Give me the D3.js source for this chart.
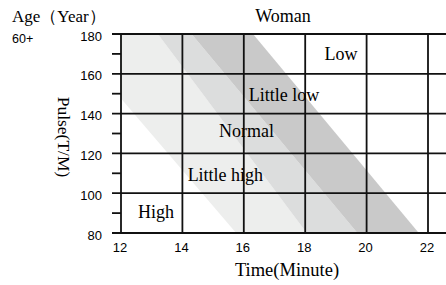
<!DOCTYPE html>
<html>
<head>
<meta charset="utf-8">
<script src="https://cdn.jsdelivr.net/npm/d3@7"></script>
<style>
  body { margin: 0; background: #fff; }
  .serif { font-family: "Liberation Serif", "Times New Roman", serif; }
  .sans { font-family: "Liberation Sans", Arial, sans-serif; }
</style>
</head>
<body>
<div id="chart"></div>
<script>
// axis ticks
const xTicks = [12, 14, 16, 18, 20, 22];
const yTicks = [80, 100, 120, 140, 160, 180];
const yMinor = [90, 110, 130, 150, 170];

// band edges: time where each edge crosses pulse 180 and pulse 80
const edgeTop = [10.2, 13.2, 14.3, 16.3];
const edgeBottom = [15.75, 18.05, 19.7, 21.7];
const bandColors = ["#edeeed", "#dcdddd", "#c9c9c9"];

// zone labels
const zones = ["Low", "Little low", "Normal", "Little high", "High"];
const zoneTime = [19.17, 17.31, 16.09, 15.4, 13.14];
const zonePulse = [170, 149.6, 131.4, 109.3, 90.7];

const W = 446, H = 285;
const m = {left: 121, right: 446, top: 34, bottom: 233};

const svg = d3.select("#chart").append("svg")
    .attr("width", W)
    .attr("height", H);

const x = d3.scaleLinear().domain([12, 22]).range([121, 428]);
const y = d3.scaleLinear().domain([80, 180]).range([m.bottom, m.top]);

svg.append("clipPath").attr("id", "plot")
    .append("rect")
    .attr("x", m.left).attr("y", m.top)
    .attr("width", m.right - m.left).attr("height", m.bottom - m.top);

// bands
const bands = svg.append("g").attr("clip-path", "url(#plot)");
bandColors.forEach(function(c, i) {
    const pts = [
        [edgeTop[i], 180], [edgeTop[i + 1], 180],
        [edgeBottom[i + 1], 80], [edgeBottom[i], 80]
    ];
    bands.append("path")
        .attr("d", "M" + pts.map(p => x(p[0]) + "," + y(p[1])).join("L") + "Z")
        .attr("fill", c);
});

// grid
const grid = svg.append("g")
    .attr("stroke", "#111")
    .attr("stroke-width", 1.8);

yTicks.forEach(function(v) {
    grid.append("line")
        .attr("x1", m.left - 9).attr("x2", m.right)
        .attr("y1", y(v)).attr("y2", y(v));
});
yMinor.forEach(function(v) {
    grid.append("line")
        .attr("x1", m.left - 9).attr("x2", m.left)
        .attr("y1", y(v)).attr("y2", y(v));
});
xTicks.forEach(function(v) {
    grid.append("line")
        .attr("x1", x(v)).attr("x2", x(v))
        .attr("y1", m.top).attr("y2", m.bottom);
});

// tick labels
svg.append("g").attr("class", "sans")
    .selectAll("text")
    .data(yTicks)
    .enter().append("text")
        .attr("x", 102)
        .attr("y", d => y(d) + 2)
        .attr("dy", "0.35em")
        .attr("text-anchor", "end")
        .attr("font-size", 13)
        .text(d => d);

svg.append("g").attr("class", "sans")
    .selectAll("text")
    .data(xTicks)
    .enter().append("text")
        .attr("x", d => x(d) - 1)
        .attr("y", 252)
        .attr("text-anchor", "middle")
        .attr("font-size", 13)
        .text(d => d);

// zone labels
svg.append("g").attr("class", "serif")
    .selectAll("text")
    .data(zones)
    .enter().append("text")
        .attr("x", (d, i) => x(zoneTime[i]))
        .attr("y", (d, i) => y(zonePulse[i]))
        .attr("dy", "0.35em")
        .attr("text-anchor", "middle")
        .attr("font-size", 18)
        .text(d => d);

// titles
svg.append("text").attr("class", "serif")
    .attr("x", 12).attr("y", 22)
    .attr("font-size", 17)
    .text("Age（Year）");

svg.append("text").attr("class", "sans")
    .attr("x", 12).attr("y", 43)
    .attr("font-size", 12.5)
    .text("60+");

svg.append("text").attr("class", "serif")
    .attr("x", 283).attr("y", 22)
    .attr("text-anchor", "middle")
    .attr("font-size", 18)
    .text("Woman");

svg.append("text").attr("class", "serif")
    .attr("x", 287).attr("y", 276)
    .attr("text-anchor", "middle")
    .attr("font-size", 18.5)
    .text("Time(Minute)");

svg.append("text").attr("class", "serif")
    .attr("transform", "translate(58,137) rotate(90)")
    .attr("text-anchor", "middle")
    .attr("font-size", 17.5)
    .text("Pulse(T/M)");
</script>
</body>
</html>
